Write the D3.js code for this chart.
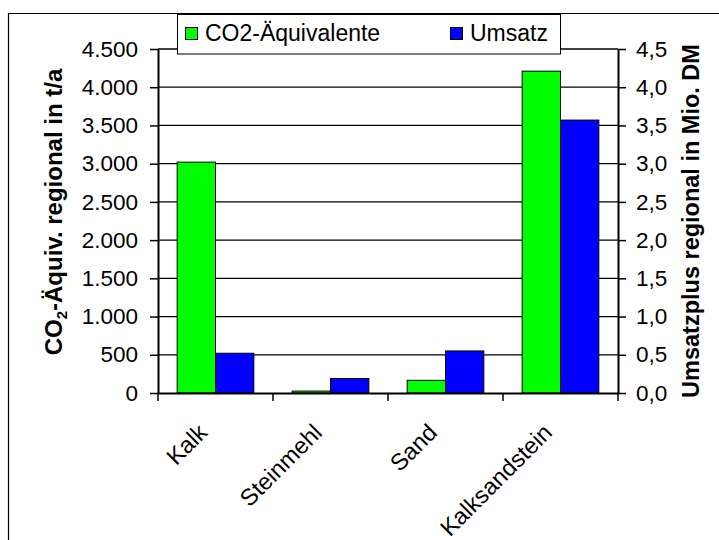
<!DOCTYPE html>
<html><head><meta charset="utf-8">
<script src="https://cdn.jsdelivr.net/npm/d3@7"></script>
<style>
body{margin:0;background:#fff;}
svg{display:block;font-family:"Liberation Sans",Arial,sans-serif;}
</style></head><body>
<div id="chart"></div>
<script>
const categories = ["Kalk", "Steinmehl", "Sand", "Kalksandstein"];
const co2Values = [3020, 25, 166, 4210];
const umsatzValues = [0.52, 0.19, 0.55, 3.57];
const leftTicks = [0, 500, 1000, 1500, 2000, 2500, 3000, 3500, 4000, 4500];
const rightTicks = [0, 0.5, 1.0, 1.5, 2.0, 2.5, 3.0, 3.5, 4.0, 4.5];
const seriesNames = ["CO2-Äquivalente", "Umsatz"];
const colors = ["#00ff00", "#0000ff"];

const W = 719, H = 540;
const m = {left: 158, right: 719 - 618, top: 49, bottom: 540 - 393};
const svg = d3.select("#chart").append("svg").attr("width", W).attr("height", H);

// outer frame (extends beyond right/bottom)
svg.append("path").attr("d", `M8.5,${H + 5} L8.5,13.5 L${W + 5},13.5`)
  .attr("fill", "none").attr("stroke", "#000").attr("stroke-width", 1.2);

const x = d3.scaleBand().domain(categories).range([m.left, W - m.right]);
const yL = d3.scaleLinear().domain([0, 4500]).range([H - m.bottom, m.top]);
const yR = d3.scaleLinear().domain([0, 4.5]).range([H - m.bottom, m.top]);

// gridlines
svg.append("g").selectAll("line").data(leftTicks.filter(d => d > 0)).join("line")
  .attr("x1", m.left).attr("x2", W - m.right)
  .attr("y1", d => yL(d)).attr("y2", d => yL(d))
  .attr("stroke", "#000").attr("stroke-width", 1.3);

// bars
const bw = x.bandwidth() / 3;
const g = svg.append("g");
categories.forEach((c, i) => {
  g.append("rect").attr("x", x(c) + bw / 2).attr("width", bw)
    .attr("y", yL(co2Values[i])).attr("height", yL(0) - yL(co2Values[i]))
    .attr("fill", colors[0]).attr("stroke", "#000").attr("stroke-width", 1);
  g.append("rect").attr("x", x(c) + bw * 1.5).attr("width", bw)
    .attr("y", yR(umsatzValues[i])).attr("height", yR(0) - yR(umsatzValues[i]))
    .attr("fill", colors[1]).attr("stroke", "#000").attr("stroke-width", 1);
});

const fmtL = d => d3.format(",")(d).replace(/,/g, ".");
const fmtR = d => d3.format(".1f")(d).replace(".", ",");

// left axis
const axL = svg.append("g").attr("transform", `translate(${m.left},0)`)
  .call(d3.axisLeft(yL).tickValues(leftTicks).tickFormat(fmtL).tickSize(8).tickSizeOuter(0).tickPadding(12));
// right axis
const axR = svg.append("g").attr("transform", `translate(${W - m.right},0)`)
  .call(d3.axisRight(yR).tickValues(rightTicks).tickFormat(fmtR).tickSize(8).tickSizeOuter(0).tickPadding(10));
// bottom axis
const axB = svg.append("g").attr("transform", `translate(0,${H - m.bottom})`)
  .call(d3.axisBottom(x).tickSize(0).tickFormat(""));
[axL, axR, axB].forEach(a => {
  a.select(".domain").attr("stroke", "#000").attr("stroke-width", 2);
  a.selectAll(".tick line").attr("stroke", "#000").attr("stroke-width", 1.5);
  a.selectAll("text").attr("font-size", 22.5).attr("fill", "#000")
    .attr("font-family", "Liberation Sans, Arial, sans-serif");
});
// bottom boundary ticks
const bounds = categories.map(c => x(c)).concat([W - m.right]);
svg.append("g").selectAll("line").data(bounds).join("line")
  .attr("x1", d => d).attr("x2", d => d)
  .attr("y1", H - m.bottom).attr("y2", H - m.bottom + 8)
  .attr("stroke", "#000").attr("stroke-width", 1.5);

// category labels
svg.append("g").selectAll("text").data(categories).join("text")
  .attr("transform", d => `translate(${x(d) + x.bandwidth() / 2 - 7},${H - m.bottom + 41}) rotate(-45)`)
  .attr("text-anchor", "end").attr("font-size", 23.5).attr("fill", "#000")
  .text(d => d);

// axis titles
const lt = svg.append("text")
  .attr("transform", `translate(62,${(yL(0) + yL(4500)) / 2 - 9}) rotate(-90)`)
  .attr("text-anchor", "middle").attr("font-size", 24).attr("font-weight", "bold");
lt.append("tspan").text("CO");
lt.append("tspan").text("2").attr("font-size", 15).attr("dy", 5);
lt.append("tspan").text("-Äquiv. regional in t/a").attr("dy", -5);

svg.append("text")
  .attr("transform", `translate(699,${(yR(0) + yR(4.5)) / 2}) rotate(-90)`)
  .attr("text-anchor", "middle").attr("font-size", 23.5).attr("font-weight", "bold")
  .text("Umsatzplus regional in Mio. DM");

// legend
const lg = svg.append("g");
lg.append("rect").attr("x", 177.5).attr("y", 14.5).attr("width", 383).attr("height", 39.5)
  .attr("fill", "#fff").attr("stroke", "#000").attr("stroke-width", 1);
const lx = [185, 450];
seriesNames.forEach((s, i) => {
  lg.append("rect").attr("x", lx[i] + 0.5).attr("y", 27.5).attr("width", 12).attr("height", 12)
    .attr("fill", colors[i]).attr("stroke", "#000").attr("stroke-width", 1);
  lg.append("text").attr("x", lx[i] + 20).attr("y", 41).attr("font-size", 23).attr("fill", "#000").text(s);
});
</script>
</body></html>
